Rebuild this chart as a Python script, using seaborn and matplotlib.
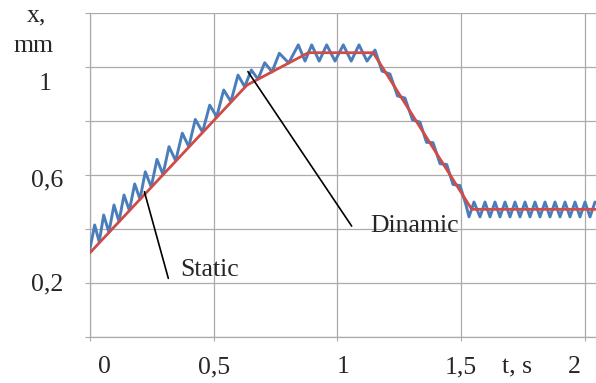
import numpy as np
import pandas as pd
import matplotlib
matplotlib.use("Agg")
import matplotlib.pyplot as plt
import seaborn as sns

# ---------------- data ----------------
# Static response (red)
static_t = [0.000, 0.635, 0.769, 0.883, 1.145, 1.543, 2.050]
static_x = [0.312, 0.934, 0.999, 1.054, 1.054, 0.474, 0.474]

# Dynamic response (blue): peaks / troughs
dyn_t = [0.000, 0.0202, 0.0384, 0.0565, 0.0775, 0.0981, 0.1183, 0.1385, 0.1603, 0.1817,
         0.2031, 0.2246, 0.2484, 0.2718, 0.2960, 0.3203, 0.3473, 0.3740, 0.4002, 0.4265,
         0.4556, 0.4847, 0.5129, 0.5412, 0.5703, 0.5989, 0.6260, 0.6527, 0.6797, 0.7068,
         0.7363, 0.7658, 0.8037, 0.8425, 0.8696, 0.8966, 0.9269, 0.9572, 0.9907, 1.0242,
         1.0561, 1.0876, 1.1200, 1.1523,
         1.1805, 1.2129, 1.2431, 1.2734, 1.3037, 1.3340, 1.3603, 1.3865, 1.4148, 1.4419,
         1.4673, 1.4956, 1.5198,
         1.5319, 1.5521, 1.5763, 1.5965, 1.6167, 1.6369, 1.6571, 1.6773, 1.6975, 1.7177,
         1.7379, 1.7581, 1.7783, 1.7985, 1.8187, 1.8389, 1.8591, 1.8793, 1.8995, 1.9197,
         1.9399, 1.9601, 1.9803, 2.0005, 2.0207, 2.0409]
dyn_x = [0.323, 0.416, 0.353, 0.453, 0.389, 0.490, 0.429, 0.527, 0.470, 0.568,
         0.512, 0.613, 0.557, 0.659, 0.603, 0.706, 0.654, 0.756, 0.706, 0.807,
         0.760, 0.860, 0.817, 0.916, 0.873, 0.971, 0.928, 0.990, 0.956, 1.017,
         0.983, 1.052, 1.016, 1.083, 1.023, 1.083, 1.023, 1.083, 1.023, 1.083,
         1.023, 1.083, 1.023, 1.064,
         0.986, 0.975, 0.894, 0.886, 0.805, 0.797, 0.722, 0.721, 0.643, 0.640,
         0.566, 0.562, 0.490,
         0.446, 0.501, 0.446, 0.501, 0.446, 0.501, 0.446, 0.501, 0.446, 0.501,
         0.446, 0.501, 0.446, 0.501, 0.446, 0.501, 0.446, 0.501, 0.446, 0.501,
         0.446, 0.501, 0.446, 0.501, 0.446, 0.501]

x_ticks = [0, 0.5, 1, 1.5, 2]
x_tick_labels = ["0", "0,5", "1", "1,5", "2"]
y_ticks = [0.2, 0.6, 1.0]
y_tick_labels = ["0,2", "0,6", "1"]

# annotation leader lines and labels
static_leader_t = [0.221, 0.3175]
static_leader_x = [0.539, 0.2185]
dyn_leader_t = [0.639, 1.058]
dyn_leader_x = [0.984, 0.412]
static_label_pos = (0.3647, 0.227)
dyn_label_pos = (1.132, 0.391)

# ---------------- style ----------------
sns.set_theme(style="white")
plt.rcParams["font.family"] = ["Liberation Serif", "DejaVu Serif"]
FS = 18.5
GRID = "#ababab"
BLUE = "#4a7ebb"
RED = "#cf4b47"

W, H = 596, 383
fig = plt.figure(figsize=(W / 100, H / 100), dpi=100)
ax = fig.add_axes([89.7 / W, 1 - 337.3 / H, 1 - 89.7 / W, (337.3 - 13.3) / H])

df_dyn = pd.DataFrame({"t": dyn_t, "x": dyn_x})
df_st = pd.DataFrame({"t": static_t, "x": static_x})
sns.lineplot(data=df_dyn, x="t", y="x", ax=ax, color=BLUE, lw=2.1,
             estimator=None, sort=False, zorder=3,
             solid_joinstyle="round", solid_capstyle="round")
sns.lineplot(data=df_st, x="t", y="x", ax=ax, color=RED, lw=2.0,
             estimator=None, sort=False, zorder=4,
             solid_joinstyle="round")

ax.plot(static_leader_t, static_leader_x, color="black", lw=1.2, zorder=5)
ax.plot(dyn_leader_t, dyn_leader_x, color="black", lw=1.2, zorder=5)
ax.text(*static_label_pos, "Static", fontsize=FS, ha="left", va="baseline", zorder=6)
ax.text(*dyn_label_pos, "Dinamic", fontsize=FS, ha="left", va="baseline", zorder=6)

ax.set_xlim(0, (W - 89.7) / 247.6)
ax.set_ylim(0, 1.2)
ax.set_xticks(x_ticks)
ax.set_yticks(np.arange(0, 1.21, 0.2))
ax.tick_params(axis="x", direction="out", length=3.2, width=0.8, color=GRID,
               labelbottom=False, bottom=True)
ax.tick_params(axis="y", direction="out", length=3.6, width=0.8, color=GRID,
               labelleft=False, left=True)
ax.grid(True, color=GRID, lw=0.9)
ax.set_axisbelow(True)
for s in ["top", "right"]:
    ax.spines[s].set_visible(False)
for s in ["left", "bottom"]:
    ax.spines[s].set_color(GRID)
    ax.spines[s].set_linewidth(0.9)
ax.set_xlabel("")
ax.set_ylabel("")

# tick labels (hand-placed offsets as in the original)
x_dx = [14.5, 0.5, 6, -0.5, -11]
for v, lab, dx in zip(x_ticks, x_tick_labels, x_dx):
    ax.annotate(lab, xy=(v, 0), xycoords=("data", "axes fraction"),
                xytext=(dx, -35.7), textcoords="offset pixels",
                ha="center", va="baseline", fontsize=FS, annotation_clip=False)
y_dx = [-26.4, -26.4, -38.0]
y_dy = [-6.7, -11.4, -22.7]
for v, lab, dx, dy in zip(y_ticks, y_tick_labels, y_dx, y_dy):
    ax.annotate(lab, xy=(0, v), xycoords=("axes fraction", "data"),
                xytext=(dx, dy), textcoords="offset pixels",
                ha="right", va="baseline", fontsize=FS, annotation_clip=False)

fig.text(36 / W, 1 - 21.7 / H, "x,", fontsize=FS, ha="center", va="baseline")
fig.text(33 / W, 1 - 51.7 / H, "mm", fontsize=FS, ha="center", va="baseline")
fig.text(517.5 / W, 1 - 373 / H, "t, s", fontsize=FS, ha="center", va="baseline")

fig.savefig("out.png", dpi=100)
